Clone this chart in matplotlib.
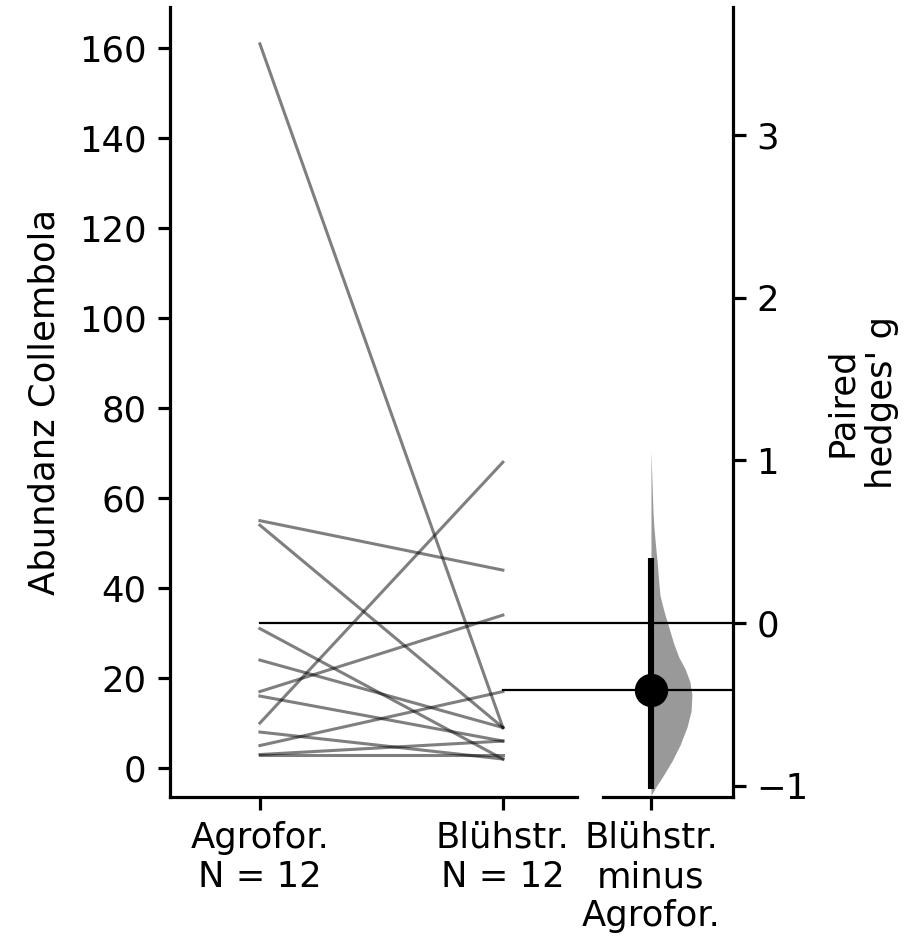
import matplotlib
matplotlib.use("Agg")
import matplotlib.pyplot as plt
import numpy as np

# ---------------- data ----------------
groups = ["Agrofor.", "Blühstr."]
agrofor = [161, 55, 54, 31, 24, 17, 16, 10, 8, 5, 3, 3]
bluehstr = [9, 44, 9, 2, 9, 34, 6, 68, 2, 17, 3, 6]
contrast_label = "Blühstr.\nminus\nAgrofor."
effect_label = "Paired\nhedges' g"
y_label = "Abundanz Collembola"
y_ticks = [0, 20, 40, 60, 80, 100, 120, 140, 160]
g_ticks = [-1, 0, 1, 2, 3]

g_effect = -0.41
g_ci = [-1.02, 0.40]
boot_g = [-1.06, -1.00, -0.95, -0.85, -0.75, -0.64, -0.54, -0.44, -0.36, -0.28,
          -0.21, -0.13, -0.03, 0.07, 0.17, 0.28, 0.38, 0.48, 0.58, 0.68, 0.79, 0.92, 1.06]
boot_density = [0.0, 0.14, 0.27, 0.51, 0.71, 0.88, 0.98, 1.0, 0.95, 0.83,
                 0.68, 0.56, 0.44, 0.32, 0.22, 0.18, 0.15, 0.11, 0.075, 0.05, 0.035, 0.018, 0.0]

# ---------------- layout ----------------
W, H = 923, 941
FS = 25.5
plt.rcParams["font.family"] = ["DejaVu Sans"]
plt.rcParams["font.size"] = FS

fig = plt.figure(figsize=(W / 100, H / 100), dpi=100)


def box(l, r, t, b):
    return [l / W, 1 - b / H, (r - l) / W, (b - t) / H]


ax = fig.add_axes(box(170, 577, 7, 797))
axc = fig.add_axes(box(603, 733, 7, 797))

SPW = 2.3
for a in (ax, axc):
    for s in a.spines.values():
        s.set_linewidth(SPW)
    a.tick_params(width=SPW, length=9, labelsize=FS, pad=8)

# ---------------- slopegraph ----------------
for a0, b0 in zip(agrofor, bluehstr):
    ax.plot([0, 1], [a0, b0], color="black", alpha=0.5, lw=2.2)

ax.set_xlim(-0.370, 1.305)
ylo, yhi = -6.44, 169.2
ax.set_ylim(ylo, yhi)
ax.set_xticks([0, 1])
ax.set_xticklabels([f"{groups[0]}\nN = {len(agrofor)}", f"{groups[1]}\nN = {len(bluehstr)}"])
ax.set_yticks(y_ticks)
ax.set_ylabel(y_label, labelpad=12)
ax.spines["top"].set_visible(False)
ax.spines["right"].set_visible(False)

# ---------------- contrast axes ----------------
ctrl_mean = np.mean(agrofor)
test_mean = np.mean(bluehstr)
k = g_effect / (test_mean - ctrl_mean)
axc.set_ylim((ylo - ctrl_mean) * k, (yhi - ctrl_mean) * k)
xc_lo, xc_hi = -0.369, 0.631
axc.set_xlim(xc_lo, xc_hi)

axc.fill_betweenx(boot_g, 0, np.array(boot_density) * 0.315, color="#999999", lw=0)
axc.plot([0, 0], g_ci, color="black", lw=4.4, solid_capstyle="butt", zorder=3)
axc.plot([0], [g_effect], "o", color="black", ms=23, zorder=4)

x0 = axc.transData.inverted().transform(ax.transData.transform((0, 0)))[0]
x1 = axc.transData.inverted().transform(ax.transData.transform((1, 0)))[0]
axc.plot([x0, xc_hi], [0, 0], color="black", lw=1.6, clip_on=False, zorder=2)
axc.plot([x1, xc_hi], [g_effect, g_effect], color="black", lw=1.6, clip_on=False, zorder=2)

axc.set_xticks([0])
axc.set_xticklabels([contrast_label])
axc.yaxis.tick_right()
axc.yaxis.set_label_position("right")
axc.set_yticks(g_ticks)
axc.set_ylabel(effect_label, labelpad=12)
axc.spines["top"].set_visible(False)
axc.spines["left"].set_visible(False)

fig.savefig("out.png", dpi=100)
